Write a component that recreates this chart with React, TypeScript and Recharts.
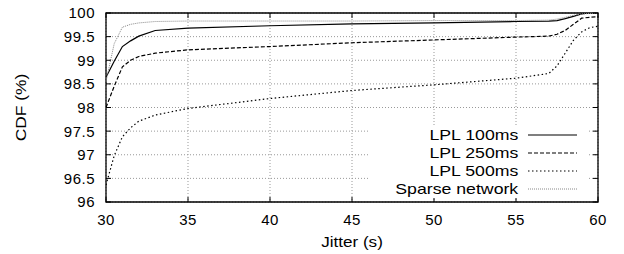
import React from 'react';
import { LineChart, Line, XAxis, YAxis, CartesianGrid, Legend, ReferenceArea, Label } from 'recharts';

// jitter (s) sample points shared by all series
const jitter = [30, 30.5, 31, 31.5, 32, 33, 35, 40, 45, 50, 55, 57, 57.5, 58, 58.5, 59, 59.5, 60];

// CDF (%)
const lpl100 = [98.64, 98.98, 99.29, 99.41, 99.51, 99.63, 99.68, 99.73, 99.77, 99.79, 99.82, 99.83, 99.84, 99.88, 99.93, 99.98, 100, 100];
const lpl250 = [98.0, 98.45, 98.86, 99.0, 99.08, 99.15, 99.22, 99.29, 99.37, 99.43, 99.49, 99.51, 99.55, 99.63, 99.76, 99.89, 99.91, 99.92];
const lpl500 = [96.36, 96.98, 97.38, 97.57, 97.71, 97.84, 97.98, 98.19, 98.36, 98.48, 98.62, 98.72, 98.88, 99.15, 99.42, 99.6, 99.69, 99.72];
const sparse = [98.55, 99.35, 99.7, 99.76, 99.79, 99.82, 99.83, 99.83, 99.83, 99.84, 99.84, 99.85, 99.87, 99.91, 99.95, 99.98, 99.99, 100];

const xTicks = [30, 35, 40, 45, 50, 55, 60];
const yTicks = [96, 96.5, 97, 97.5, 98, 98.5, 99, 99.5, 100];

const series = [
  { key: 'lpl100', name: 'LPL 100ms', color: '#000', dash: undefined, width: 1.2 },
  { key: 'lpl250', name: 'LPL 250ms', color: '#000', dash: '4 2', width: 1.2 },
  { key: 'lpl500', name: 'LPL 500ms', color: '#000', dash: '1.5 2.5', width: 1.2 },
  { key: 'sparse', name: 'Sparse network', color: '#888', dash: '1 1', width: 1 },
];

const data = jitter.map((j, i) => ({
  jitter: j,
  lpl100: lpl100[i],
  lpl250: lpl250[i],
  lpl500: lpl500[i],
  sparse: sparse[i],
}));

const W = 624;
const H = 254;
const MARGIN = { top: 13, right: 26, bottom: 0, left: 0 };
const Y_AXIS_W = 106;
const X_AXIS_H = 52;
const PLOT_W = W - Y_AXIS_W - MARGIN.right;
const PLOT_H = H - MARGIN.top - X_AXIS_H;
const X_GAP = 12;
const Y_GAP = 10;
const TICK = 5;
const FONT = '"Liberation Sans", Arial, Helvetica, sans-serif';
const FS = 15;

const XTick = ({ x, y, payload }: any) => {
  const axisY = y - X_GAP;
  return (
    <g>
      <line x1={x} x2={x} y1={axisY} y2={axisY - TICK} stroke="#000" />
      <line x1={x} x2={x} y1={axisY - PLOT_H} y2={axisY - PLOT_H + TICK} stroke="#000" />
      <text x={x} y={y} dy="0.71em" textAnchor="middle" fontFamily={FONT} fontSize={FS} letterSpacing={0.5} fill="#000">
        {payload.value}
      </text>
    </g>
  );
};

const YTick = ({ x, y, payload }: any) => {
  const axisX = x + Y_GAP;
  return (
    <g>
      <line x1={axisX} x2={axisX + TICK} y1={y} y2={y} stroke="#000" />
      <line x1={axisX + PLOT_W} x2={axisX + PLOT_W - TICK} y1={y} y2={y} stroke="#000" />
      <text x={x - 1} y={y} dy="0.36em" textAnchor="end" fontFamily={FONT} fontSize={FS} letterSpacing={0.5} fill="#000">
        {payload.value}
      </text>
    </g>
  );
};

const LegendBox = () => (
  <div style={{ fontFamily: FONT, fontSize: FS, color: '#000' }}>
    {series.map((s) => (
      <div key={s.key} style={{ display: 'flex', alignItems: 'center', height: 18 }}>
        <div style={{ width: 148, textAlign: 'right', lineHeight: '18px', whiteSpace: 'nowrap' }}>
          <span style={{ display: 'inline-block', transform: 'scaleX(1.18)', transformOrigin: 'right center' }}>
            {s.name}
          </span>
        </div>
        <svg width={59} height={18}>
          <line x1={10} x2={59} y1={9} y2={9} stroke={s.color} strokeWidth={s.width} strokeDasharray={s.dash} />
        </svg>
      </div>
    ))}
  </div>
);

export default function App() {
  return (
    <div style={{ position: 'absolute', left: 0, top: 0, background: '#fff' }}>
      <LineChart width={W} height={H} data={data} margin={MARGIN}>
        <CartesianGrid stroke="#999" strokeDasharray="1 2" />
        <XAxis
          dataKey="jitter"
          type="number"
          domain={[30, 60]}
          ticks={xTicks}
          allowDataOverflow
          height={X_AXIS_H}
          axisLine={false}
          tickLine={false}
          tickSize={0}
          tickMargin={X_GAP}
          tick={(p: any) => <XTick {...p} />}
        >
          <Label
            content={({ viewBox }: any) => {
              const cx = viewBox.x + viewBox.width / 2;
              const cy = viewBox.y + 45;
              return (
                <text
                  transform={`translate(${cx} ${cy}) scale(1.14 1)`}
                  textAnchor="middle"
                  fontFamily={FONT}
                  fontSize={FS}
                  fill="#000"
                >
                  Jitter (s)
                </text>
              );
            }}
          />
        </XAxis>
        <YAxis
          type="number"
          domain={[96, 100]}
          ticks={yTicks}
          allowDataOverflow
          width={Y_AXIS_W}
          axisLine={false}
          tickLine={false}
          tickSize={0}
          tickMargin={Y_GAP}
          tick={(p: any) => <YTick {...p} />}
        >
          <Label
            content={({ viewBox }: any) => {
              const cx = viewBox.x + 21;
              const cy = viewBox.y + viewBox.height / 2;
              return (
                <text
                  transform={`translate(${cx} ${cy}) rotate(-90) scale(1.16 1)`}
                  textAnchor="middle"
                  dy="0.36em"
                  fontFamily={FONT}
                  fontSize={FS}
                  fill="#000"
                >
                  CDF (%)
                </text>
              );
            }}
          />
        </YAxis>
        <ReferenceArea x1={30} x2={60} y1={96} y2={100} fill="none" stroke="#000" strokeWidth={1.3} />
        {series.map((s) => (
          <Line
            key={s.key}
            type="linear"
            dataKey={s.key}
            name={s.name}
            stroke={s.color}
            strokeWidth={s.width}
            strokeDasharray={s.dash}
            dot={false}
            activeDot={false}
            isAnimationActive={false}
          />
        ))}
        <Legend
          layout="horizontal"
          verticalAlign="middle"
          align="center"
          wrapperStyle={{ left: 370, top: 126, width: 217, height: 72, background: '#fff' }}
          content={() => <LegendBox />}
        />
      </LineChart>
    </div>
  );
}
